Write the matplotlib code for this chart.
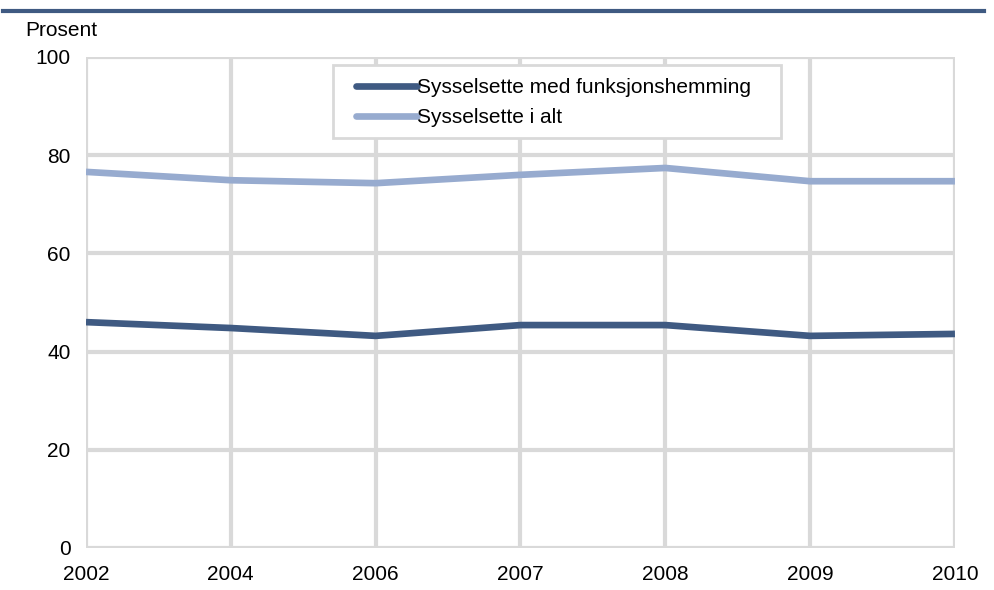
import matplotlib.pyplot as plt
from matplotlib.lines import Line2D
from matplotlib.patches import Rectangle

plt.rcParams["font.family"] = ["Liberation Sans", "DejaVu Sans"]

# Data
years = ["2002", "2004", "2006", "2007", "2008", "2009", "2010"]
med_funksjonshemming = [46.0, 44.8, 43.2, 45.4, 45.4, 43.2, 43.6]
i_alt = [76.6, 74.9, 74.3, 76.0, 77.4, 74.7, 74.7]

dark = "#3f5a82"
light = "#97abcf"
grid = "#d9d9d9"
fs = 15

fig = plt.figure(figsize=(9.94, 5.9), dpi=100)
ax = fig.add_axes([0.0865, 0.0712, 0.8742, 0.8322])

x = list(range(len(years)))
ax.plot(x, med_funksjonshemming, color=dark, lw=4.8, solid_capstyle="butt",
        label="Sysselsette med funksjonshemming", zorder=3)
ax.plot(x, i_alt, color=light, lw=4.8, solid_capstyle="butt",
        label="Sysselsette i alt", zorder=3)

ax.set_xlim(0, len(years) - 1)
ax.set_ylim(0, 100)
ax.set_xticks(x)
ax.set_xticklabels(years)
ax.set_yticks([0, 20, 40, 60, 80, 100])
ax.tick_params(length=0, labelsize=fs)
ax.tick_params(axis="x", pad=12.5)
ax.tick_params(axis="y", pad=11)
ax.grid(True, color=grid, lw=3, zorder=1, solid_capstyle="round")
ax.set_axisbelow(True)
for s in ax.spines.values():
    s.set_visible(False)

# legend frame drawn by hand, legend entries placed inside it
fig.add_artist(Rectangle((333 / 994, 1 - 138 / 590), 448 / 994, 73 / 590,
                         transform=fig.transFigure, facecolor="white",
                         edgecolor=grid, lw=2, zorder=4))
leg = fig.legend(loc="upper left", bbox_to_anchor=(356 / 994, 1 - 78 / 590),
                 fontsize=fs, frameon=False, handlelength=2.95,
                 handletextpad=0.0, borderpad=0.0, borderaxespad=0.0,
                 labelspacing=0.52)
leg.set_zorder(5)
for h in leg.get_lines():
    h.set_linewidth(4.8)
    h.set_solid_capstyle("round")

fig.text(25 / 994, 1 - 31 / 590, "Prosent", fontsize=fs, ha="left", va="center")

# header rule at the top
fig.add_artist(Line2D([0.003, 0.99], [0.982, 0.982], color=dark, lw=3,
                      transform=fig.transFigure))

fig.savefig("out.png", dpi=100)
